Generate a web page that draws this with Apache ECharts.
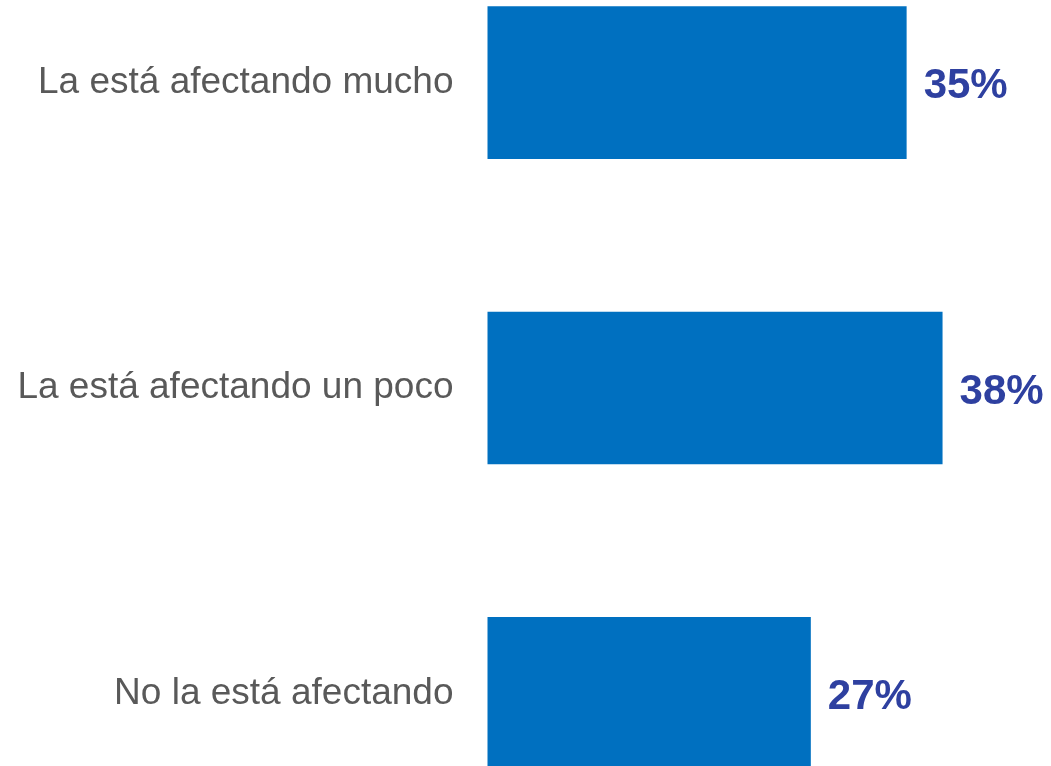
<!DOCTYPE html>
<html>
<head>
<meta charset="utf-8">
<script src="https://cdn.jsdelivr.net/npm/echarts@6/dist/echarts.min.js"></script>
<style>
html,body{margin:0;padding:0;background:#fff;overflow:hidden;width:1051px;height:766px;}
#wrap{position:relative;width:1051px;height:766px;overflow:hidden;}
#chart{position:absolute;left:0;top:-70px;width:1051px;height:916px;}
</style>
</head>
<body>
<div id="wrap"><div id="chart"></div></div>
<script>
const categories = ["La está afectando mucho", "La está afectando un poco", "No la está afectando"];
const values = [35, 38, 27];

const chart = echarts.init(document.getElementById('chart'), null, {renderer: 'canvas'});
chart.setOption({
  animation: false,
  backgroundColor: '#ffffff',
  grid: {left: 487.5, right: 84.5, top: 0, bottom: 0, containLabel: false},
  xAxis: {
    type: 'value', min: 0, max: 40,
    show: false
  },
  yAxis: {
    type: 'category',
    data: categories,
    inverse: true,
    axisLine: {show: false},
    axisTick: {show: false},
    splitLine: {show: false},
    axisLabel: {
      margin: 34,
      fontSize: 37,
      padding: [4, 0, 0, 0],
      color: '#595959',
      fontFamily: '"Liberation Sans", Arial, sans-serif'
    }
  },
  series: [{
    type: 'bar',
    data: values,
    barCategoryGap: '50%',
    itemStyle: {color: '#0070C0'},
    label: {
      show: true,
      position: 'right',
      distance: 17,
      offset: [0, 4],
      formatter: '{c}%',
      fontSize: 42,
      fontWeight: 'bold',
      color: '#2E40A0',
      fontFamily: '"Liberation Sans", Arial, sans-serif'
    }
  }]
});
</script>
</body>
</html>
